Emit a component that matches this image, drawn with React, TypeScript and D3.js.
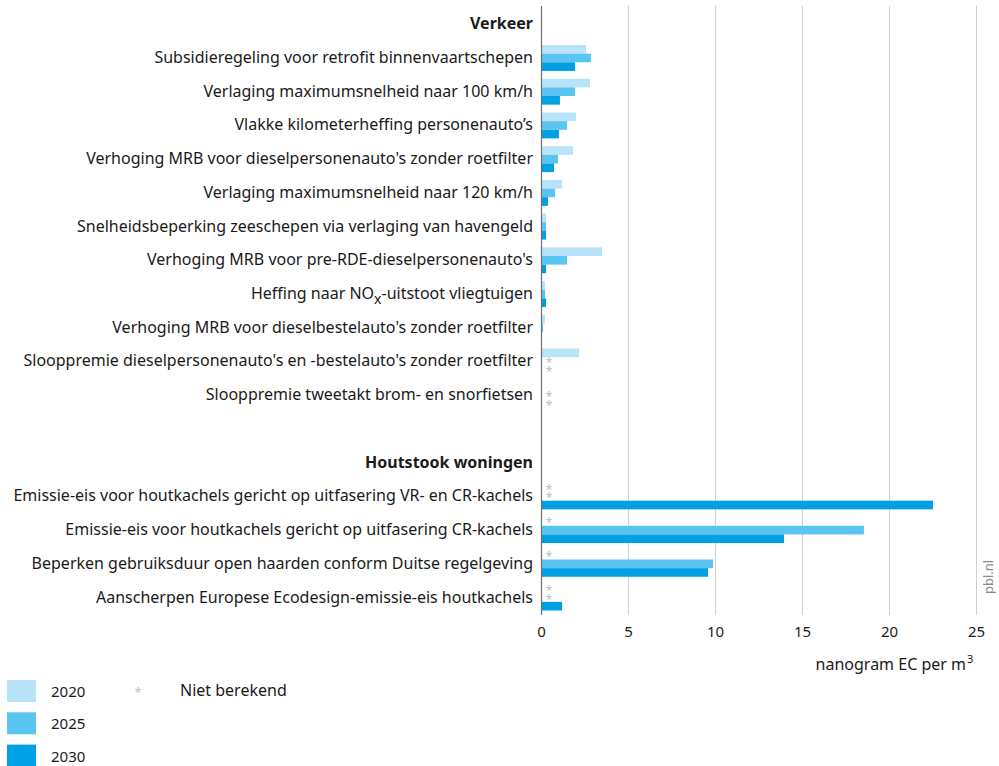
import React from "react";
import * as d3 from "d3";

const years = ["2020", "2025", "2030"];
const colors = ["#b9e3f8", "#5bc5f1", "#00a1e4"];

const rowLabels = [
  "Verkeer",
  "Subsidieregeling voor retrofit binnenvaartschepen",
  "Verlaging maximumsnelheid naar 100 km/h",
  "Vlakke kilometerheffing personenauto’s",
  "Verhoging MRB voor dieselpersonenauto's zonder roetfilter",
  "Verlaging maximumsnelheid naar 120 km/h",
  "Snelheidsbeperking zeeschepen via verlaging van havengeld",
  "Verhoging MRB voor pre-RDE-dieselpersonenauto's",
  "NOX",
  "Verhoging MRB voor dieselbestelauto's zonder roetfilter",
  "Slooppremie dieselpersonenauto's en -bestelauto's zonder roetfilter",
  "Slooppremie tweetakt brom- en snorfietsen",
  "",
  "Houtstook woningen",
  "Emissie-eis voor houtkachels gericht op uitfasering VR- en CR-kachels",
  "Emissie-eis voor houtkachels gericht op uitfasering CR-kachels",
  "Beperken gebruiksduur open haarden conform Duitse regelgeving",
  "Aanscherpen Europese Ecodesign-emissie-eis houtkachels",
];
const rowTypes = ["header", "item", "item", "item", "item", "item", "item", "item", "item", "item", "item", "item", "blank", "header", "item", "item", "item", "item"];

// null = niet berekend (*)
const values2020: (number | null)[] = [0, 2.56, 2.79, 1.98, 1.81, 1.18, 0.26, 3.48, 0.2, 0.2, 2.16, 0, 0, 0, null, null, null, null];
const values2025: (number | null)[] = [0, 2.84, 1.93, 1.47, 0.95, 0.78, 0.26, 1.47, 0.2, 0.09, null, null, 0, 0, null, 18.53, 9.86, null];
const values2030: (number | null)[] = [0, 1.93, 1.06, 1.0, 0.72, 0.37, 0.26, 0.26, 0.26, 0, null, null, 0, 0, 22.5, 13.94, 9.57, 1.18];
const series = [values2020, values2025, values2030];

const xTicks = [0, 5, 10, 15, 20, 25];

const FONT = "'Noto Sans', 'Open Sans', sans-serif";

export default function App() {
  const W = 999, H = 766;
  const x = d3.scaleLinear().domain([0, 25]).range([541.5, 976.5]);
  const rowIdx = rowLabels.map((_, i) => String(i));
  const y = d3.scaleBand<string>().domain(rowIdx).range([7.4, 614.4]).padding(0);
  const inner = d3.scaleBand<string>().domain(years).range([3.9, y.bandwidth() - 3.9]).padding(0);
  const labelX = 533;
  const gridTop = 6, gridBottom = 615;
  const FS = 16;

  return (
    <svg width={W} height={H} style={{ position: "absolute", left: 0, top: 0, background: "#fff" }} fontFamily={FONT}>
      {xTicks.filter((t) => t > 0).map((t) => (
        <line key={"g" + t} x1={x(t)} x2={x(t)} y1={gridTop} y2={gridBottom} stroke="#d0d0d0" strokeWidth={1} />
      ))}
      {rowIdx.map((r, i) =>
        rowTypes[i] === "item"
          ? series.map((s, k) => {
              const v = s[i];
              const by = (y(r) as number) + (inner(years[k]) as number);
              if (v === null) {
                return (
                  <text key={r + "-" + k} x={549} y={by + inner.bandwidth() / 2 + 6} textAnchor="middle" fontSize={12} fill="#bdbdbd">
                    *
                  </text>
                );
              }
              if (v <= 0) return null;
              return <rect key={r + "-" + k} x={x(0)} y={by} width={x(v) - x(0)} height={inner.bandwidth()} fill={colors[k]} />;
            })
          : null
      )}
      <line x1={x(0)} x2={x(0)} y1={gridTop} y2={gridBottom} stroke="#6e6e6e" strokeWidth={1.2} />
      {rowIdx.map((r, i) => {
        const cy = (y(r) as number) + y.bandwidth() / 2;
        if (rowTypes[i] === "blank") return null;
        if (rowLabels[i] === "NOX") {
          return (
            <text key={"l" + r} x={labelX} y={cy + 5} textAnchor="end" fontSize={FS} fill="#1a1a1a">
              Heffing naar NO<tspan dy={5} fontSize={14}>x</tspan>
              <tspan dy={-5}>-uitstoot vliegtuigen</tspan>
            </text>
          );
        }
        return (
          <text
            key={"l" + r}
            x={labelX}
            y={cy + 5}
            textAnchor="end"
            fontSize={FS}
            fontWeight={rowTypes[i] === "header" ? 700 : 400}
            fill="#1a1a1a"
          >
            {rowLabels[i]}
          </text>
        );
      })}
      {xTicks.map((t) => (
        <text key={"t" + t} x={x(t)} y={637} textAnchor="middle" fontSize={15} fill="#1a1a1a">
          {t}
        </text>
      ))}
      <text x={966} y={670} textAnchor="end" fontSize={FS} fill="#1a1a1a">
        nanogram EC per m
      </text>
      <text x={967} y={663} textAnchor="start" fontSize={11} fill="#1a1a1a">
        3
      </text>
      <text transform={`translate(${993},${577}) rotate(-90)`} textAnchor="middle" fontSize={13} fill="#8c8c8c">
        pbl.nl
      </text>
      {years.map((yr, k) => (
        <g key={"lg" + yr} transform={`translate(7,${680 + k * 32.3})`}>
          <rect x={0} y={0} width={29} height={22} fill={colors[k]} />
          <text x={44} y={17} fontSize={15} fill="#1a1a1a">
            {yr}
          </text>
        </g>
      ))}
      <text x={138} y={697} textAnchor="middle" fontSize={12} fill="#bdbdbd">
        *
      </text>
      <text x={180} y={696} fontSize={FS} fill="#1a1a1a">
        Niet berekend
      </text>
    </svg>
  );
}
